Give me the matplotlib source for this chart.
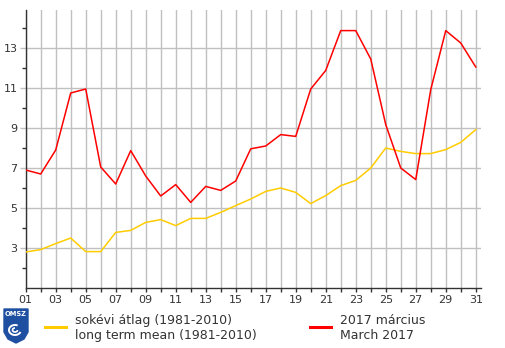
import matplotlib
matplotlib.use("Agg")
import matplotlib.pyplot as plt
from matplotlib.patches import Polygon, Arc
import numpy as np

days = list(range(1, 32))
march_2017 = [6.9, 6.7, 7.9, 10.75, 10.95, 7.05, 6.2, 7.87, 6.6, 5.6, 6.17, 5.28, 6.08, 5.88, 6.35,
              7.96, 8.1, 8.67, 8.58, 10.95, 11.88, 13.87, 13.87, 12.45, 9.17, 7.0, 6.42, 10.92, 13.87,
              13.25, 12.05]
long_term_mean = [2.8, 2.92, 3.22, 3.5, 2.82, 2.82, 3.78, 3.88, 4.28, 4.42, 4.12, 4.48, 4.48, 4.78,
                  5.12, 5.45, 5.83, 6.0, 5.78, 5.22, 5.62, 6.12, 6.38, 7.0, 8.0, 7.83, 7.72, 7.72,
                  7.92, 8.28, 8.92]
x_tick_labels = ["%02d" % d for d in range(1, 32, 2)]
y_major = [3, 5, 7, 9, 11, 13]
y_minor = [2, 4, 6, 8, 10, 12, 14]
legend_mean = "sokévi átlag (1981-2010)\nlong term mean (1981-2010)"
legend_2017 = "2017 március\nMarch 2017"

W, H = 505, 348
fig = plt.figure(figsize=(W / 100, H / 100), dpi=100)
ax = fig.add_axes([25.7 / W, (H - 288) / H, (481 - 25.7) / W, 278 / H])

ax.set_xlim(1, 31.35)
ax.set_ylim(1, 14.9)

grid_c = "#c0c0c0"
for d in days:
    ax.axvline(d, color=grid_c, lw=1.0, zorder=1)
for v in y_major:
    ax.axhline(v, color=grid_c, lw=1.0, zorder=1)

ax.plot(days, long_term_mean, color="#ffcc00", lw=1.1, zorder=3)
ax.plot(days, march_2017, color="#ff0000", lw=1.1, zorder=4)

ax.set_xticks(days)
ax.set_xticklabels([lab if i % 2 == 0 else "" for i, lab in
                    enumerate("%02d" % d for d in days)])
ax.set_yticks(y_major)
ax.set_yticks(y_minor, minor=True)
ax.tick_params(axis="x", direction="out", length=3, width=1, color="#333333",
               labelsize=8, labelcolor="#333333", pad=2)
ax.tick_params(axis="y", which="major", direction="out", length=4, width=1, color=grid_c,
               labelsize=8, labelcolor="#333333", pad=2)
ax.tick_params(axis="y", which="minor", direction="out", length=3, width=1, color="#333333")

for s in ["top", "right"]:
    ax.spines[s].set_visible(False)
for s in ["left", "bottom"]:
    ax.spines[s].set_color("#333333")
    ax.spines[s].set_linewidth(1.0)

# Legend
fig.add_artist(plt.Line2D([45 / W, 66 / W], [1 - 327 / H, 1 - 327 / H], color="#ffcc00", lw=2.2))
fig.text(75 / W, 1 - 328 / H, legend_mean, fontsize=9.0, color="#333333", va="center",
         ha="left", linespacing=1.15)
fig.add_artist(plt.Line2D([310 / W, 331 / W], [1 - 327 / H, 1 - 327 / H], color="#ff0000", lw=2.2))
fig.text(340 / W, 1 - 328 / H, legend_2017, fontsize=9.0, color="#333333", va="center",
         ha="left", linespacing=1.15)

# OMSZ logo (simple)
lax = fig.add_axes([0, 0, 1, 1], facecolor="none")
lax.set_xlim(0, W)
lax.set_ylim(H, 0)
lax.axis("off")
shield = Polygon([[4, 309], [28, 309], [28, 332], [24, 339], [16, 343], [8, 339], [4, 332]],
                 closed=True, facecolor="#1f4fa0", edgecolor="#1f4fa0")
lax.add_patch(shield)
lax.text(16, 314.5, "OMSZ", color="white", fontsize=4.8, fontweight="bold", ha="center", va="center")
lax.add_patch(Arc((15, 330), 12, 10, theta1=20, theta2=300, color="white", lw=1.4))
lax.add_patch(Arc((15, 330), 5, 4, theta1=0, theta2=270, color="white", lw=1.2))

fig.savefig("out.png", dpi=100)
